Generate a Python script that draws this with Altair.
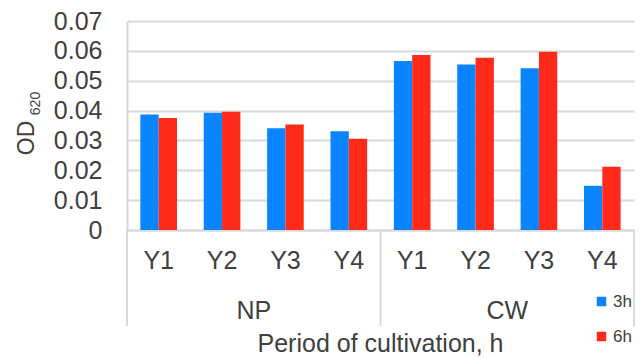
import altair as alt
import pandas as pd

groups = ["NP", "CW"]
years = ["Y1", "Y2", "Y3", "Y4"]
series = ["3h", "6h"]
values_3h = [0.0387, 0.0393, 0.0341, 0.0331, 0.0566, 0.0554, 0.0542, 0.0148]
values_6h = [0.0375, 0.0396, 0.0353, 0.0306, 0.0586, 0.0577, 0.0597, 0.0212]
y_ticks = [0, 0.01, 0.02, 0.03, 0.04, 0.05, 0.06, 0.07]

cats = [f"{g}|{y}" for g in groups for y in years]
rows = []
for i, c in enumerate(cats):
    rows.append({"cat": c, "series": "3h", "value": values_3h[i]})
    rows.append({"cat": c, "series": "6h", "value": values_6h[i]})
df = pd.DataFrame(rows)

TXT = "#404040"
GRID = "#d9d9d9"
FONT = "Liberation Sans"

xscale = alt.Scale(domain=cats, paddingInner=0, paddingOuter=0)

bars = alt.Chart(df).mark_bar().encode(
    x=alt.X("cat:N", scale=xscale, sort=cats,
            axis=alt.Axis(title=None, ticks=False, labelExpr="split(datum.value, '|')[1]",
                          labelFontSize=25, labelColor=TXT, labelFont=FONT, labelPadding=18,
                          labelAngle=0, domainColor=GRID, domainWidth=2, grid=False)),
    xOffset=alt.XOffset("series:N", scale=alt.Scale(paddingOuter=0.73, paddingInner=0)),
    y=alt.Y("value:Q", scale=alt.Scale(domain=[0, 0.07], nice=False),
            axis=alt.Axis(title=None, values=y_ticks, ticks=False,
                          labelExpr="datum.value == 0 ? '0' : format(datum.value, '.2f')",
                          labelFontSize=25, labelColor=TXT, labelFont=FONT, labelPadding=25,
                          domainColor=GRID, domainWidth=2, gridColor=GRID, gridWidth=2)),
    color=alt.Color("series:N", scale=alt.Scale(domain=series, range=["#0a84ff", "#ff2a1a"]),
                    legend=alt.Legend(title=None, orient="none", legendX=466, legendY=272,
                                      symbolType="square", symbolSize=90, symbolStrokeWidth=0,
                                      labelFontSize=17, labelFont=FONT, labelColor=TXT,
                                      labelOffset=3, rowPadding=17, padding=0)),
)

sep_df = pd.DataFrame({"cat": [cats[0], cats[4], cats[7]]})
seps_left = alt.Chart(sep_df.iloc[:2]).mark_rule(color=GRID, strokeWidth=2).encode(
    x=alt.X("cat:N", sort=cats, bandPosition=0),
    y=alt.value(209), y2=alt.value(305))
seps_right = alt.Chart(sep_df.iloc[2:]).mark_rule(color=GRID, strokeWidth=2).encode(
    x=alt.X("cat:N", sort=cats, bandPosition=1),
    y=alt.value(209), y2=alt.value(305))

grp_df = pd.DataFrame({"cat": [cats[1], cats[5]], "label": groups})
grp_text = alt.Chart(grp_df).mark_text(fontSize=25, font=FONT, color=TXT, baseline="middle").encode(
    x=alt.X("cat:N", sort=cats, bandPosition=1),
    y=alt.value(290), text="label:N")

xtitle = alt.Chart(pd.DataFrame({"t": ["Period of cultivation, h"]})).mark_text(
    fontSize=25, font=FONT, color=TXT, baseline="alphabetic").encode(
    x=alt.value(253.5), y=alt.value(331), text="t:N")

od = alt.Chart(pd.DataFrame({"t": ["OD"]})).mark_text(
    fontSize=23, font=FONT, color=TXT, angle=270, baseline="middle").encode(
    x=alt.value(-100.5), y=alt.value(117), text="t:N")
sub = alt.Chart(pd.DataFrame({"t": ["620"]})).mark_text(
    fontSize=14, font=FONT, color=TXT, angle=270, baseline="middle").encode(
    x=alt.value(-91.5), y=alt.value(82.5), text="t:N")

chart = alt.layer(bars, seps_left, seps_right, grp_text, xtitle, od, sub).properties(
    width=507, height=209,
    autosize=alt.AutoSizeParams(type="none"),
    padding={"left": 119, "top": 13, "right": 2, "bottom": 128},
).configure_view(stroke=None)

chart.save("out.html", embed_options={"renderer": "svg", "actions": False})
